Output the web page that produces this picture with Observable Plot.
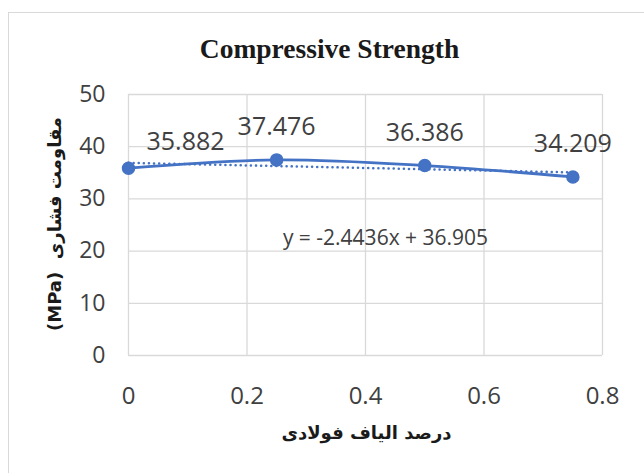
<!DOCTYPE html>
<html>
<head>
<meta charset="utf-8">
<script src="https://cdn.jsdelivr.net/npm/d3@7"></script>
<script src="https://cdn.jsdelivr.net/npm/@observablehq/plot@0.6"></script>
<style>
  html, body { margin: 0; padding: 0; background: #fff; overflow: hidden; }
  #wrap { position: relative; width: 644px; height: 473px; overflow: hidden; background: #fff; }
  #frame { position: absolute; left: 8px; top: 12px; width: 700px; height: 600px; border-left: 1.5px solid #d9d9d9; border-top: 1.5px solid #d9d9d9; }
  #chart { position: absolute; left: 0; top: 0; }
</style>
</head>
<body>
<div id="wrap"><div id="frame"></div><div id="chart"></div></div>
<script>
const fiber = [0, 0.25, 0.5, 0.75];
const strength = [35.882, 37.476, 36.386, 34.209];
const valueLabels = ["35.882", "37.476", "36.386", "34.209"];
const xTicks = [0, 0.2, 0.4, 0.6, 0.8];
const yTicks = [0, 10, 20, 30, 40, 50];
const chartTitle = "Compressive Strength";
const xTitle = "درصد الیاف فولادی";
const yTitle = "مقاومت فشاری  (MPa)";
const equation = "y = -2.4436x + 36.905";

const data = fiber.map((x, i) => ({x, y: strength[i], label: valueLabels[i]}));
const blue = "#4472C4";
const textColor = "#404040";
const sans = "'Open Sans', 'DejaVu Sans', sans-serif";

const chart = Plot.plot({
  width: 644,
  height: 473,
  marginLeft: 128,
  marginRight: 42,
  marginTop: 94,
  marginBottom: 118,
  style: {fontFamily: sans, background: "transparent", color: textColor},
  x: {domain: [0, 0.8]},
  y: {domain: [0, 50]},
  marks: [
    Plot.gridX(xTicks, {stroke: "#d9d9d9", strokeOpacity: 1, strokeWidth: 1.3}),
    Plot.gridY(yTicks, {stroke: "#d9d9d9", strokeOpacity: 1, strokeWidth: 1.3}),
    Plot.axisX(xTicks, {tickSize: 0, tickPadding: 31, fontSize: 24, fill: textColor, label: null, tickFormat: d => String(d)}),
    Plot.axisY(yTicks, {tickSize: 0, tickPadding: 23, fontSize: 23, fill: textColor, label: null, tickFormat: d => String(d)}),
    Plot.linearRegressionY(data, {x: "x", y: "y", ci: 0, stroke: blue, strokeWidth: 2.5, strokeDasharray: "0.1 5", strokeLinecap: "round"}),
    Plot.line(data, {x: "x", y: "y", stroke: blue, strokeWidth: 2.8, curve: "catmull-rom"}),
    Plot.dot(data, {x: "x", y: "y", r: 6, fill: blue, stroke: blue}),
    Plot.text(data.slice(0, 1), {x: "x", y: "y", text: "label", dx: 57, dy: -26, fontSize: 25, fill: textColor}),
    Plot.text(data.slice(1), {x: "x", y: "y", text: "label", dy: -33, fontSize: 25, fill: textColor}),
    Plot.text([equation], {frameAnchor: "top", textAnchor: "middle", lineAnchor: "middle", dx: 20, dy: 144, fontSize: 21, fill: textColor}),
    Plot.text([chartTitle], {frameAnchor: "top", textAnchor: "middle", lineAnchor: "middle", dx: -36, dy: -45, fontSize: 27.5, fontWeight: "bold", fontFamily: "'Liberation Serif', 'Times New Roman', serif", fill: "#1a1a1a"}),
    Plot.text([xTitle], {frameAnchor: "bottom", textAnchor: "middle", lineAnchor: "middle", dx: 1, dy: 78, fontSize: 18, fontWeight: "bold", fontFamily: "'DejaVu Sans', sans-serif", fill: "#1a1a1a"}),
    Plot.text([yTitle], {frameAnchor: "left", textAnchor: "middle", lineAnchor: "middle", dx: -73, dy: -1, rotate: -90, fontSize: 18, fontWeight: "bold", fontFamily: "'DejaVu Sans', sans-serif", fill: "#1a1a1a"})
  ]
});
// Persian titles read right-to-left
chart.querySelectorAll("text").forEach(t => {
  if (t.textContent === yTitle || t.textContent === xTitle) {
    t.setAttribute("direction", "rtl");
    t.style.direction = "rtl";
    t.style.unicodeBidi = "embed";
  }
});
document.getElementById("chart").appendChild(chart);
</script>
</body>
</html>
